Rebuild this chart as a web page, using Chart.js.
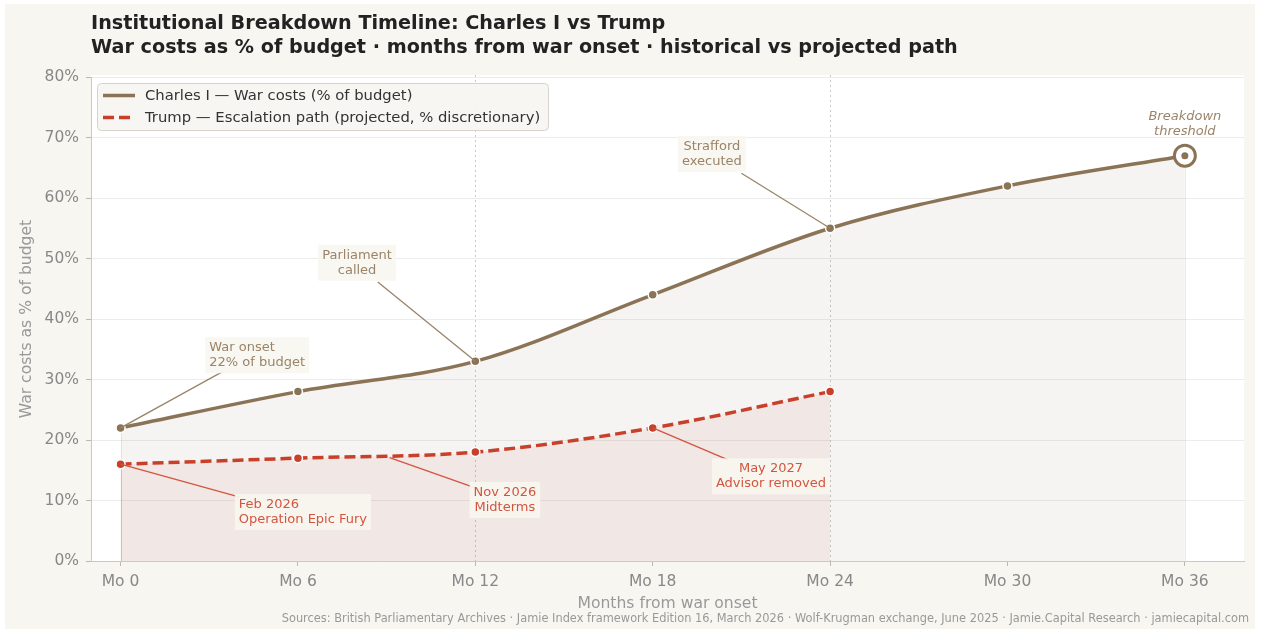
<!DOCTYPE html>
<html>
<head>
<meta charset="utf-8">
<script src="https://cdn.jsdelivr.net/npm/chart.js@4.4.1/dist/chart.umd.min.js"></script>
<style>
  html, body { margin: 0; padding: 0; background: #ffffff; }
  canvas { display: block; }
</style>
</head>
<body>
<canvas id="timelineChart" width="1261" height="633"></canvas>
<script>
// data
const charlesMonths = [0, 6, 12, 18, 24, 30, 36];
const charlesValues = [22, 28, 33, 44, 55, 62, 67];
const trumpMonths = [0, 6, 12, 18, 24];
const trumpValues = [16, 17, 18, 22, 28];
const monthTicks = [0, 6, 12, 18, 24, 30, 36];
const percentTicks = [0, 10, 20, 30, 40, 50, 60, 70, 80];
const markerMonths = [12, 24];

const BROWN = "#8b7355";
const RED = "#c8402a";
const FONT = '"DejaVu Sans", "Noto Sans", sans-serif';

// notes in data units (months, %)
const notes = [
    { text: ["War onset", "22% of budget"], x: 3.0, y: 34.0, align: "left", color: "#9a8468", from: [0, 22], to: [3.45, 31.3] },
    { text: ["Parliament", "called"], x: 8.0, y: 49.3, align: "center", color: "#9a8468", from: [12, 33], to: [8.7, 46.1] },
    { text: ["Strafford", "executed"], x: 20.0, y: 67.3, align: "center", color: "#9a8468", from: [24, 55], to: [21.0, 64.1] },
    { text: ["Breakdown", "threshold"], x: 36.0, y: 72.2, align: "center", color: "#9a8468", italic: true, plain: true },
    { text: ["Feb 2026", "Operation Epic Fury"], x: 4.0, y: 8.1, align: "left", color: "#d2553f", from: [0, 16], to: [4.0, 10.6] },
    { text: ["Nov 2026", "Midterms"], x: 13.0, y: 10.1, align: "center", color: "#d2553f", from: [9.1, 17.1], to: [12.0, 12.1] },
    { text: ["May 2027", "Advisor removed"], x: 22.0, y: 14.0, align: "center", color: "#d2553f", from: [18, 22], to: [20.55, 16.7] }
];

function toPoints(xs, ys) {
    return xs.map((x, i) => ({ x: x, y: ys[i] }));
}

const decorPlugin = {
    id: "decor",
    beforeDraw(chart) {
        const ctx = chart.ctx;
        const a = chart.chartArea;
        ctx.save();
        ctx.fillStyle = "#f7f6f1";
        ctx.fillRect(5, 4, 1250, 625);
        ctx.fillStyle = "#ffffff";
        ctx.fillRect(a.left, a.top - 2, a.right - a.left, a.bottom - a.top + 2);
        ctx.restore();
    },
    beforeDatasetsDraw(chart) {
        const ctx = chart.ctx;
        const a = chart.chartArea;
        const xs = chart.scales.x;
        const ys = chart.scales.y;
        ctx.save();
        ctx.strokeStyle = "#c9c9c9";
        ctx.lineWidth = 1;
        ctx.setLineDash([2, 3]);
        markerMonths.forEach((m) => {
            const px = Math.round(xs.getPixelForValue(m)) + 0.5;
            ctx.beginPath();
            ctx.moveTo(px, a.top - 2);
            ctx.lineTo(px, a.bottom);
            ctx.stroke();
        });
        ctx.setLineDash([]);
        // fill edges
        const edges = [
            [charlesMonths[0], charlesValues[0], "rgba(139,115,85,0.15)"],
            [charlesMonths[charlesMonths.length - 1], charlesValues[charlesValues.length - 1], "rgba(139,115,85,0.15)"],
            [trumpMonths[0], trumpValues[0], "rgba(200,64,42,0.18)"]
        ];
        edges.forEach(([m, v, c]) => {
            const px = Math.round(xs.getPixelForValue(m)) + 0.5;
            ctx.strokeStyle = c;
            ctx.beginPath();
            ctx.moveTo(px, ys.getPixelForValue(v));
            ctx.lineTo(px, ys.getPixelForValue(0));
            ctx.stroke();
        });
        ctx.restore();
    },
    afterDatasetsDraw(chart) {
        const ctx = chart.ctx;
        const xs = chart.scales.x;
        const ys = chart.scales.y;
        ctx.save();

        // breakdown ring at the last Charles point
        const last = charlesMonths.length - 1;
        const rx = xs.getPixelForValue(charlesMonths[last]);
        const ry = ys.getPixelForValue(charlesValues[last]);
        ctx.beginPath();
        ctx.arc(rx, ry, 10.5, 0, Math.PI * 2);
        ctx.fillStyle = "#ffffff";
        ctx.fill();
        ctx.lineWidth = 3;
        ctx.strokeStyle = BROWN;
        ctx.stroke();
        ctx.beginPath();
        ctx.arc(rx, ry, 3.5, 0, Math.PI * 2);
        ctx.fillStyle = BROWN;
        ctx.fill();

        // annotations
        const lh = 15;
        notes.forEach((n) => {
            ctx.font = (n.italic ? "italic " : "") + "13px " + FONT;
            const cx = xs.getPixelForValue(n.x);
            const cy = ys.getPixelForValue(n.y);
            const w = Math.max(...n.text.map((t) => ctx.measureText(t).width));
            const h = n.text.length * lh;
            const left = n.align === "left" ? cx : cx - w / 2;
            if (n.from) {
                ctx.strokeStyle = n.color;
                ctx.lineWidth = 1.3;
                ctx.beginPath();
                ctx.moveTo(xs.getPixelForValue(n.from[0]), ys.getPixelForValue(n.from[1]));
                ctx.lineTo(xs.getPixelForValue(n.to[0]), ys.getPixelForValue(n.to[1]));
                ctx.stroke();
            }
            if (!n.plain) {
                ctx.fillStyle = "rgba(248,246,240,0.92)";
                ctx.fillRect(left - 4, cy - h / 2 - 3, w + 8, h + 6);
            }
            ctx.fillStyle = n.color;
            ctx.textAlign = n.align;
            ctx.textBaseline = "middle";
            n.text.forEach((t, i) => {
                ctx.fillText(t, cx, cy - h / 2 + lh / 2 + i * lh);
            });
        });

        // legend
        const lx = 97, ly = 83, lw = 451, lhgt = 47;
        ctx.beginPath();
        ctx.roundRect(lx + 0.5, ly + 0.5, lw, lhgt, 4);
        ctx.fillStyle = "rgba(247,246,242,0.95)";
        ctx.fill();
        ctx.strokeStyle = "#d6d3cc";
        ctx.lineWidth = 1;
        ctx.stroke();
        ctx.lineWidth = 3.5;
        ctx.strokeStyle = BROWN;
        ctx.beginPath();
        ctx.moveTo(103, 95.5);
        ctx.lineTo(135, 95.5);
        ctx.stroke();
        ctx.strokeStyle = RED;
        ctx.setLineDash([11, 5]);
        ctx.beginPath();
        ctx.moveTo(103, 117.5);
        ctx.lineTo(135, 117.5);
        ctx.stroke();
        ctx.setLineDash([]);
        ctx.font = "14.8px " + FONT;
        ctx.fillStyle = "#333333";
        ctx.textAlign = "left";
        ctx.textBaseline = "middle";
        ctx.fillText("Charles I \u2014 War costs (% of budget)", 145, 96);
        ctx.fillText("Trump \u2014 Escalation path (projected, % discretionary)", 145, 118);
        ctx.restore();
    },
    afterDraw(chart) {
        const ctx = chart.ctx;
        const a = chart.chartArea;
        ctx.save();
        ctx.fillStyle = "#222222";
        ctx.font = "bold 19.2px " + FONT;
        ctx.textAlign = "left";
        ctx.textBaseline = "middle";
        ctx.fillText("Institutional Breakdown Timeline: Charles I vs Trump", 91, 24);
        ctx.fillText("War costs as % of budget \u00b7 months from war onset \u00b7 historical vs projected path", 91, 48);

        ctx.fillStyle = "#999999";
        ctx.font = "15.6px " + FONT;
        ctx.textAlign = "center";
        ctx.fillText("Months from war onset", (a.left + a.right) / 2, 604);

        ctx.save();
        ctx.translate(27, (a.top + a.bottom) / 2);
        ctx.rotate(-Math.PI / 2);
        ctx.fillText("War costs as % of budget", 0, 0);
        ctx.restore();

        ctx.font = "11.4px " + FONT;
        ctx.textAlign = "right";
        ctx.fillText("Sources: British Parliamentary Archives \u00b7 Jamie Index framework Edition 16, March 2026 \u00b7 Wolf-Krugman exchange, June 2025 \u00b7 Jamie.Capital Research \u00b7 jamiecapital.com", 1249, 619);
        ctx.restore();
    }
};

const chart = new Chart("timelineChart", {
    type: "line",
    data: {
        datasets: [
            {
                label: "Charles I \u2014 War costs (% of budget)",
                data: toPoints(charlesMonths, charlesValues),
                borderColor: BROWN,
                borderWidth: 3.5,
                backgroundColor: "rgba(120,100,90,0.07)",
                fill: "origin",
                cubicInterpolationMode: "monotone",
                pointRadius: 4.5,
                pointBackgroundColor: BROWN,
                pointBorderColor: "#ffffff",
                pointBorderWidth: 1.5,
                order: 1
            },
            {
                label: "Trump \u2014 Escalation path (projected, % discretionary)",
                data: toPoints(trumpMonths, trumpValues),
                borderColor: RED,
                borderWidth: 3.5,
                borderDash: [11, 5],
                backgroundColor: "rgba(200,64,42,0.07)",
                fill: "origin",
                cubicInterpolationMode: "monotone",
                pointRadius: 4.5,
                pointBackgroundColor: RED,
                pointBorderColor: "#ffffff",
                pointBorderWidth: 1.5,
                order: 0
            }
        ]
    },
    options: {
        responsive: false,
        animation: false,
        events: [],
        layout: { padding: { left: 0, right: 17, top: 77, bottom: 42 } },
        plugins: {
            legend: { display: false },
            title: { display: false },
            tooltip: { enabled: false }
        },
        scales: {
            x: {
                type: "linear",
                min: -1,
                max: 38,
                afterBuildTicks: (scale) => { scale.ticks = monthTicks.map((v) => ({ value: v })); },
                afterFit: (scale) => { scale.height = 30; },
                ticks: {
                    callback: (v) => "Mo " + v,
                    color: "#888888",
                    font: { family: FONT, size: 15.5 },
                    padding: 7,
                    maxRotation: 0
                },
                grid: { drawOnChartArea: false, drawTicks: true, tickLength: 5, tickColor: "#bdb7ad" },
                border: { color: "#cfc8bd", width: 1 }
            },
            y: {
                min: 0,
                max: 80,
                afterBuildTicks: (scale) => { scale.ticks = percentTicks.map((v) => ({ value: v })); },
                afterFit: (scale) => { scale.width = 91; },
                ticks: {
                    callback: (v) => v + "%",
                    color: "#888888",
                    font: { family: FONT, size: 15.5 },
                    padding: 7
                },
                grid: { color: "#ececec", lineWidth: 1, tickLength: 5, tickColor: "#bdb7ad" },
                border: { color: "#cfc8bd", width: 1 }
            }
        }
    },
    plugins: [decorPlugin]
});
</script>
</body>
</html>
